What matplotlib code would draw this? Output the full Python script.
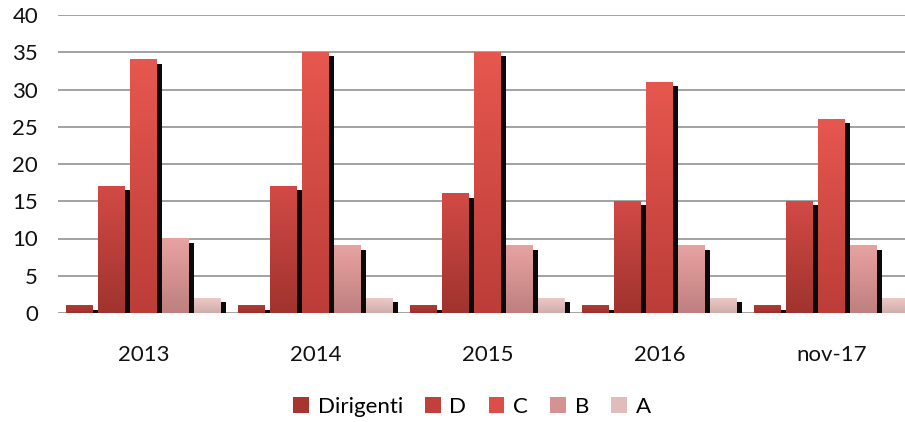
import numpy as np
import matplotlib.pyplot as plt
import matplotlib.transforms as mtransforms
from matplotlib.colors import LinearSegmentedColormap
from matplotlib.patches import Patch

years = ['2013', '2014', '2015', '2016', 'nov-17']
series_names = ['Dirigenti', 'D', 'C', 'B', 'A']
dirigenti = [1, 1, 1, 1, 1]
d_vals = [17, 17, 16, 15, 15]
c_vals = [34, 35, 35, 31, 26]
b_vals = [10, 9, 9, 9, 9]
a_vals = [2, 2, 2, 2, 2]

# (bottom, top) gradient colours and flat legend colours
grad_colors = [('#9c302b', '#b23b36'),
               ('#a0332e', '#d24a46'),
               ('#bc3d38', '#e6574f'),
               ('#bf7f7f', '#e7a3a1'),
               ('#cfadab', '#edc9c6')]
legend_colors = ['#a8352f', '#c0403c', '#dc4f49', '#d49292', '#e0bcba']

plt.rcParams['font.family'] = ['Lato', 'DejaVu Sans']
plt.rcParams['font.size'] = 16

fig = plt.figure(figsize=(9.05, 4.22), dpi=100)
ax = fig.add_axes([57.5 / 905, 109 / 422, 860 / 905, 298 / 422])

x = np.arange(len(years))
slot = 32 / 172
width = 27 / 172
shadow = ax.transData + mtransforms.ScaledTranslation(5 / 100, -4 / 100, fig.dpi_scale_trans)
grad = np.linspace(0, 1, 256).reshape(-1, 1)

all_series = [dirigenti, d_vals, c_vals, b_vals, a_vals]
for i, vals in enumerate(all_series):
    xs = x + (i - 2) * slot
    sh = ax.bar(xs, vals, width=width, color='#0a0a0a', zorder=2)
    for p in sh.patches:
        p.set_transform(shadow)
    cmap = LinearSegmentedColormap.from_list('g%d' % i, grad_colors[i])
    for xi, v in zip(xs, vals):
        ax.imshow(grad, extent=[xi - width / 2, xi + width / 2, 0, v], origin='lower',
                  cmap=cmap, aspect='auto', zorder=3, interpolation='bilinear')

ax.set_xlim(-0.5, len(years) - 0.5)
ax.set_ylim(0, 40)
ax.set_yticks(range(0, 41, 5))
ax.set_xticks(x)
ax.set_xticklabels(years)
ax.tick_params(axis='y', length=0, pad=14, labelcolor='#111111')
ax.tick_params(axis='x', length=0, pad=23, labelcolor='#111111')
ax.set_axisbelow(True)
ax.yaxis.grid(True, color='#a2a2a2', linewidth=1.4)
for s in ax.spines.values():
    s.set_visible(False)

handles = [Patch(facecolor=c, edgecolor='none') for c in legend_colors]
fig.legend(handles, series_names, loc='center', bbox_to_anchor=(472 / 905, 1 - 407 / 422),
           ncol=5, frameon=False, handlelength=0.7, handleheight=0.7,
           handletextpad=0.4, columnspacing=1.0)

fig.savefig('out.png', dpi=100)
